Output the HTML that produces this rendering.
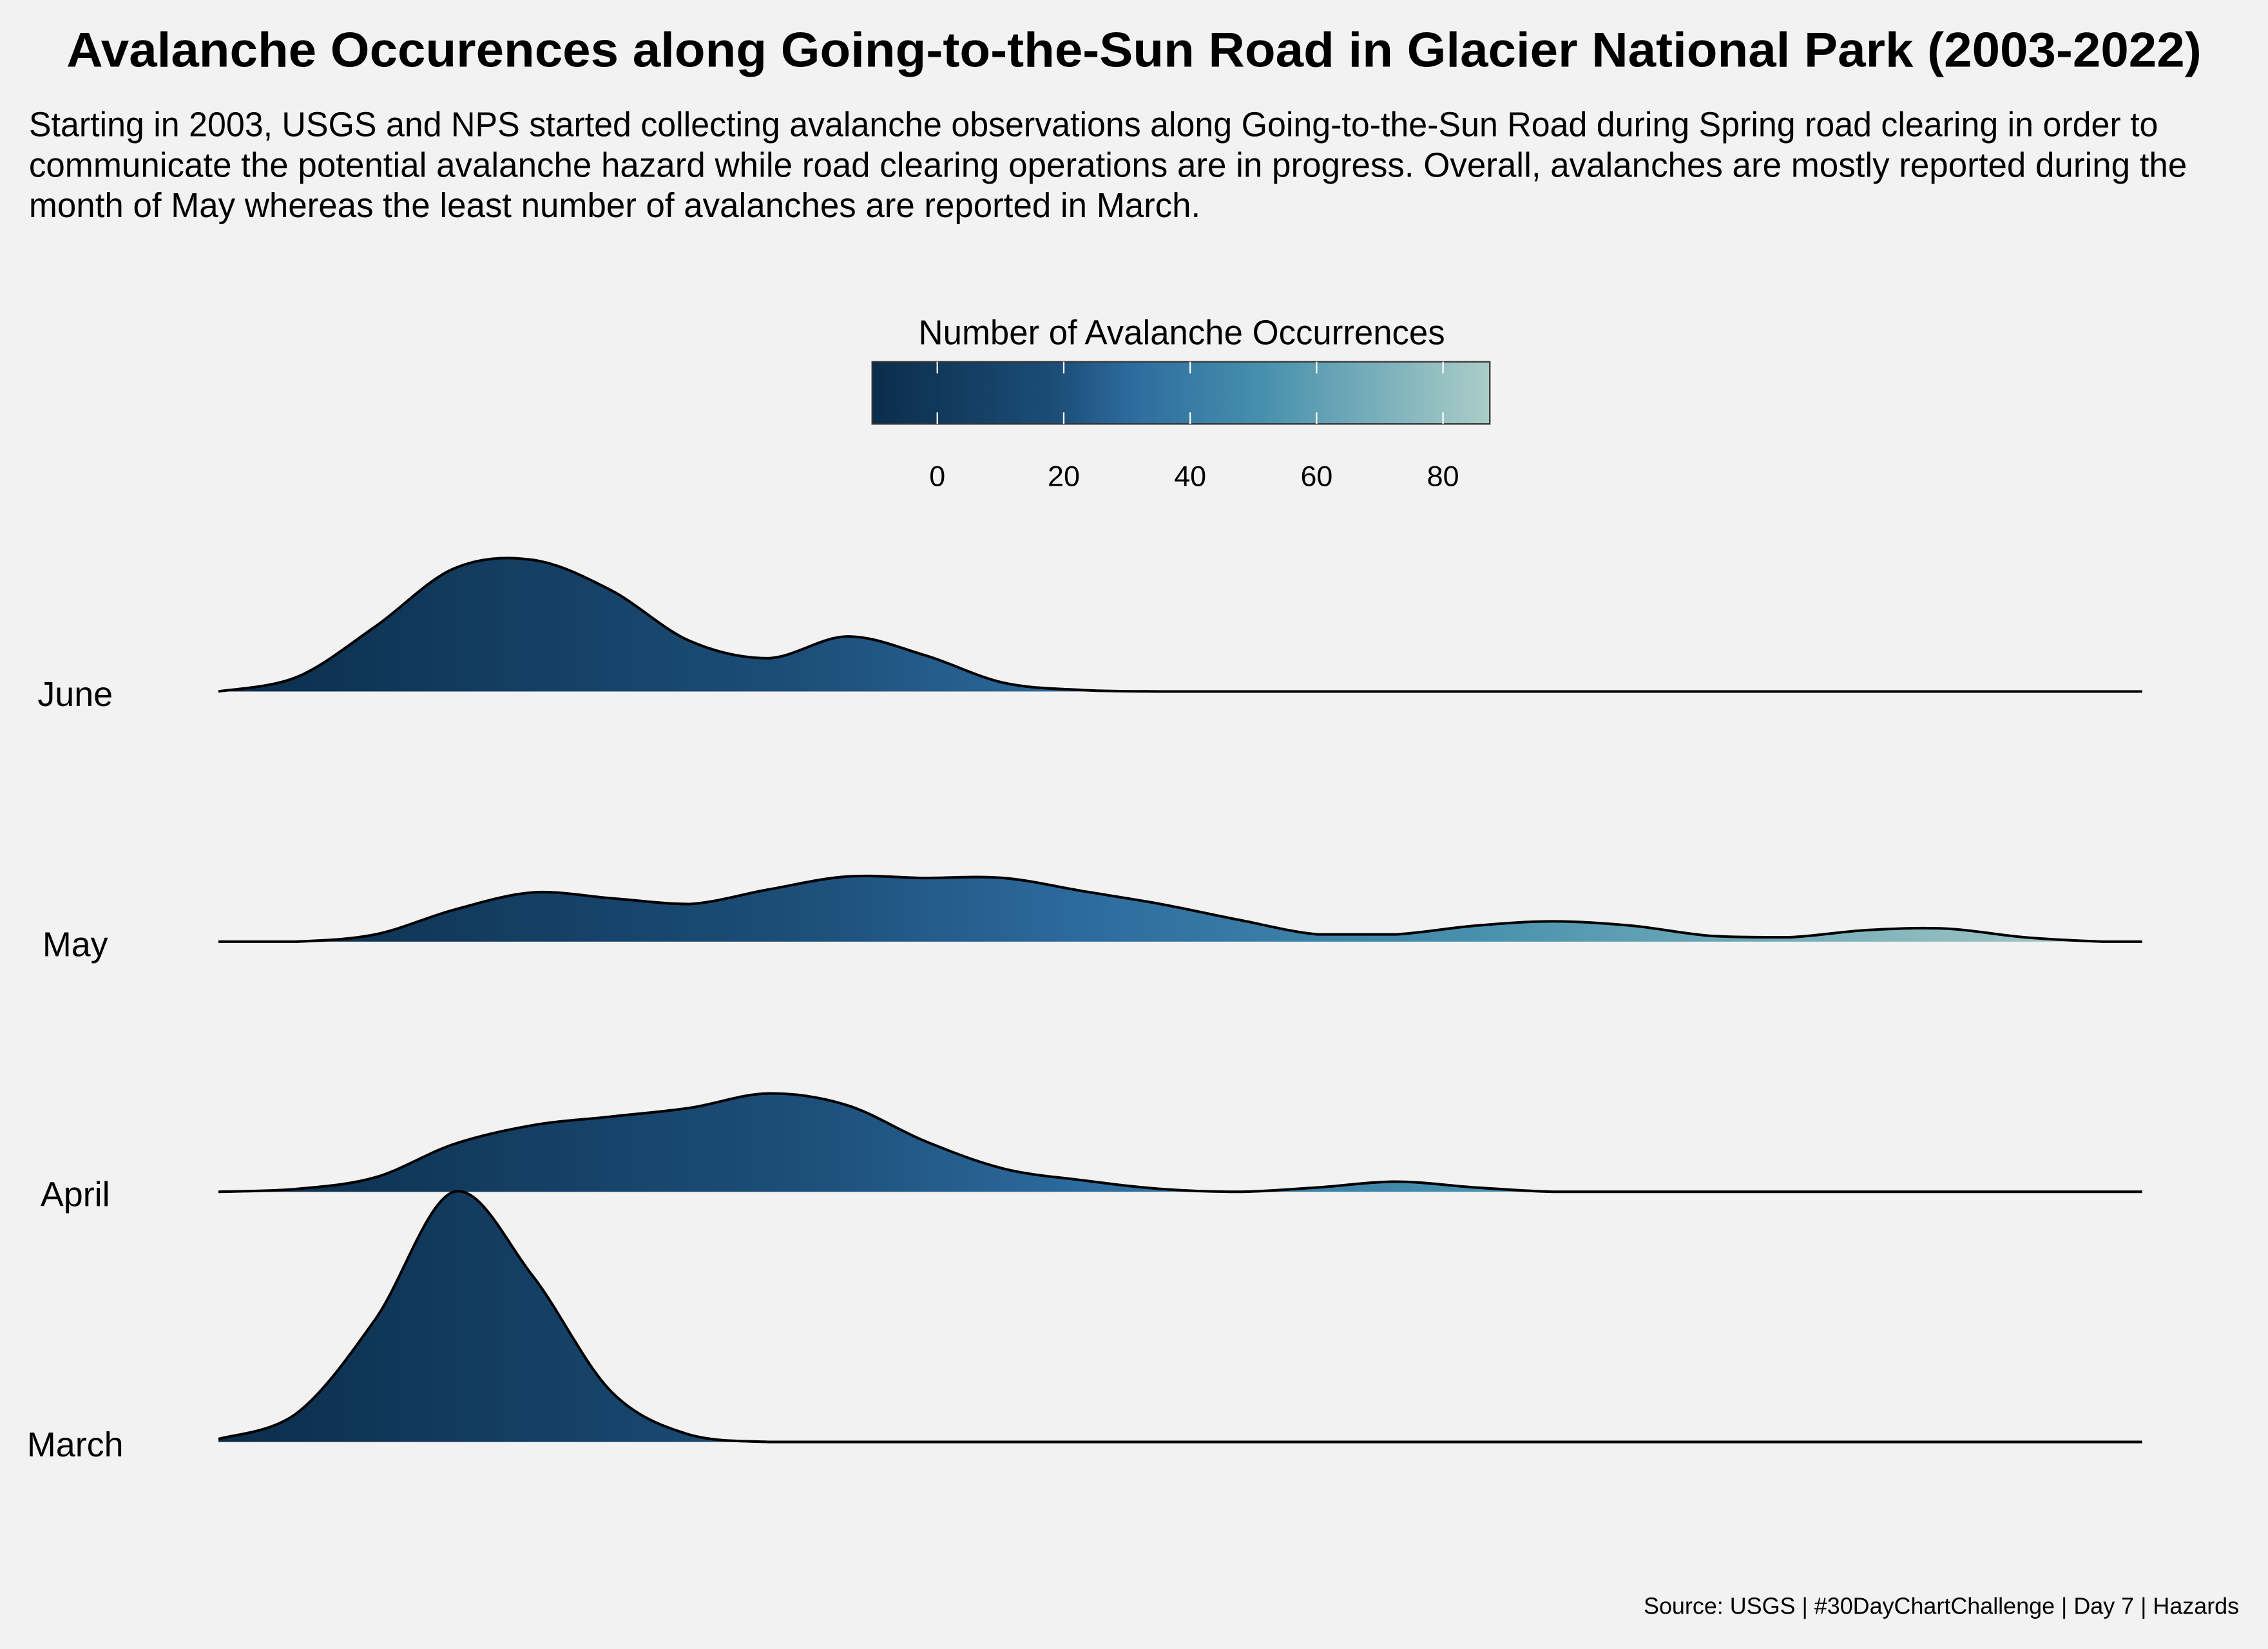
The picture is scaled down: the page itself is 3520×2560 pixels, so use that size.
<!DOCTYPE html>
<html><head><meta charset="utf-8"><title>Avalanche ridgeline</title>
<style>
html,body{margin:0;padding:0;background:#f2f2f2;}
svg{display:block;}
text{font-family:"Liberation Sans Narrow","Liberation Sans",sans-serif;fill:#000;}
</style></head>
<body>
<svg id="chart" width="3520" height="2560" viewBox="0 0 1568 1140" xmlns="http://www.w3.org/2000/svg">
<defs>
<linearGradient id="cbar" x1="0" x2="1" y1="0" y2="0">
<stop offset="0" stop-color="#0b2d4b"/>
<stop offset="0.3" stop-color="#1c4e78"/>
<stop offset="0.42" stop-color="#2d6b9e"/>
<stop offset="0.63" stop-color="#4690ad"/>
<stop offset="1" stop-color="#abcdc7"/>
</linearGradient>
<linearGradient id="ridgefill" gradientUnits="userSpaceOnUse" x1="151" x2="1481" y1="0" y2="0">
<stop offset="0" stop-color="#0b2d4b"/>
<stop offset="0.3" stop-color="#1c4e78"/>
<stop offset="0.45" stop-color="#2d6b9e"/>
<stop offset="0.65" stop-color="#4690ad"/>
<stop offset="1" stop-color="#abcdc7"/>
</linearGradient>
</defs>
<rect x="0" y="0" width="1568" height="1140" fill="#f2f2f2"/>
<text x="46" y="46" font-size="34" font-weight="bold" textLength="1476" lengthAdjust="spacingAndGlyphs">Avalanche Occurences along Going-to-the-Sun Road in Glacier National Park (2003-2022)</text>
<g font-size="24">
<text x="20" y="94" textLength="1472" lengthAdjust="spacingAndGlyphs">Starting in 2003, USGS and NPS started collecting avalanche observations along Going-to-the-Sun Road during Spring road clearing in order to</text>
<text x="20" y="122" textLength="1492" lengthAdjust="spacingAndGlyphs">communicate the potential avalanche hazard while road clearing operations are in progress. Overall, avalanches are mostly reported during the</text>
<text x="20" y="150" textLength="810" lengthAdjust="spacingAndGlyphs">month of May whereas the least number of avalanches are reported in March.</text>
</g>
<g id="legend">
<text x="817" y="238" font-size="24" text-anchor="middle" textLength="364" lengthAdjust="spacingAndGlyphs">Number of Avalanche Occurrences</text>
<rect x="603" y="250" width="427" height="43" fill="url(#cbar)" stroke="#333" stroke-width="1"/>
</g>
<g id="ridges"></g>
<text x="1548" y="1116" font-size="16" text-anchor="end">Source: USGS | #30DayChartChallenge | Day 7 | Hazards</text>
<script>
const legendTicks = [0, 20, 40, 60, 80];
const months = ["March", "April", "May", "June"];
const xGrid = [-10,-6,-2,2,6,10,14,18,22,26,30,34,38,42,46,50,54,58,62,66,70,74,78,82,86,88];
const marchDensity = [2,20,85,173,115,35,5,0,0,0,0,0,0,0,0,0,0,0,0,0,0,0,0,0,0,0];
const aprilDensity = [0,2,10,33,46,52,58,68,60,35,16,8,2,0,3,7,3,0,0,0,0,0,0,0,0,0];
const mayDensity = [0,0,5,22,34,30,26,36,45,44,44,35,26,15,5,5,11,14,11,4,3,8,9,3,0,0];
const juneDensity = [0,10,45,85,91,70,35,23,38,25,6,1,0,0,0,0,0,0,0,0,0,0,0,0,0,0];
const densities = [marchDensity, aprilDensity, mayDensity, juneDensity];

const NS = "http://www.w3.org/2000/svg";
const xMin = -10, xMax = 88, pxL = 151, pxR = 1481;
function xs(v){ return pxL + (v - xMin) / (xMax - xMin) * (pxR - pxL); }
const baseBottom = 997, rowStep = 173;
function baseY(i){ return baseBottom - i * rowStep; }
const hScale = 1;
const cbL = 603, cbR = 1030, cbMin = -10.3, cbMax = 87.4;
function cbx(v){ return cbL + (v - cbMin) / (cbMax - cbMin) * (cbR - cbL); }

const legend = document.getElementById('legend');
legendTicks.forEach(t => {
  const x = cbx(t);
  const l1 = document.createElementNS(NS, 'line');
  
  
  l1.setAttribute('x1', x); l1.setAttribute('x2', x);
  l1.setAttribute('y1', 250); l1.setAttribute('y2', 258);
  l1.setAttribute('stroke', '#fff'); l1.setAttribute('stroke-width', '1');
  legend.appendChild(l1);
  const l2 = document.createElementNS(NS, 'line');
  
  
  l2.setAttribute('x1', x); l2.setAttribute('x2', x);
  l2.setAttribute('y1', 285); l2.setAttribute('y2', 293);
  l2.setAttribute('stroke', '#fff'); l2.setAttribute('stroke-width', '1');
  legend.appendChild(l2);
  const tx = document.createElementNS(NS, 'text');
  
  
  tx.setAttribute('x', x); tx.setAttribute('y', 336);
  tx.setAttribute('font-size', '20'); tx.setAttribute('text-anchor', 'middle');
  tx.textContent = t;
  legend.appendChild(tx);
});

function smoothPath(pts){
  let d = `M${pts[0][0]},${pts[0][1]}`;
  for (let i = 0; i < pts.length - 1; i++) {
    const p0 = pts[Math.max(0, i-1)], p1 = pts[i], p2 = pts[i+1], p3 = pts[Math.min(pts.length-1, i+2)];
    const c1x = p1[0] + (p2[0]-p0[0])/6, c1y = Math.min(p1[1] + (p2[1]-p0[1])/6, Math.max(p1[1], p2[1]));
    const c2x = p2[0] - (p3[0]-p1[0])/6, c2y = Math.min(p2[1] - (p3[1]-p1[1])/6, Math.max(p1[1], p2[1]));
    d += ` C${c1x},${c1y} ${c2x},${c2y} ${p2[0]},${p2[1]}`;
  }
  return d;
}

const ridges = document.getElementById('ridges');
for (let i = months.length - 1; i >= 0; i--) {
  const by = baseY(i);
  const pts = xGrid.map((v, k) => [xs(v), by - densities[i][k] * hScale]);
  const line = smoothPath(pts);
  const area = document.createElementNS(NS, 'path');
  
  
  area.setAttribute('d', line + ` L${pxR},${by} L${pxL},${by} Z`);
  area.setAttribute('fill', 'url(#ridgefill)');
  ridges.appendChild(area);
  const outline = document.createElementNS(NS, 'path');
  
  
  outline.setAttribute('d', line);
  outline.setAttribute('fill', 'none');
  outline.setAttribute('stroke', '#000'); outline.setAttribute('stroke-width', '1.8');
  ridges.appendChild(outline);
  const lab = document.createElementNS(NS, 'text');
  
  
  lab.setAttribute('x', 52); lab.setAttribute('y', by + 10);
  lab.setAttribute('font-size', '24'); lab.setAttribute('text-anchor', 'middle');
  lab.textContent = months[i];
  ridges.appendChild(lab);
}
</script>
</svg>
</body></html>
